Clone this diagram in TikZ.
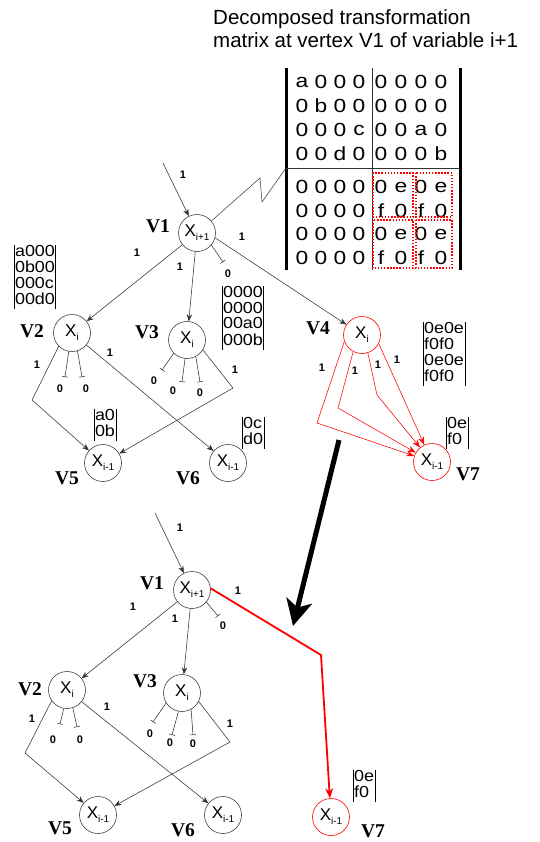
\documentclass[tikz,border=0pt]{standalone}
\usepackage{fontspec}
\setmainfont{Liberation Serif}
\setsansfont{Liberation Sans}
\usepackage{graphicx}
\usetikzlibrary{arrows.meta}

\newcommand\xsub[1]{X\raisebox{-4pt}{\fontsize{10}{10}\selectfont #1}}
\newcommand\smatrix[1]{\scalebox{1.12}[1]{\setlength\arrayrulewidth{0.6pt}\setlength\tabcolsep{0.8pt}%
  \begin{tabular}{|l|}#1\end{tabular}}}

\tikzset{
  vtx/.style={circle, draw=black!75, line width=0.6pt, minimum size=37pt, inner sep=0pt,
    font=\sffamily\fontsize{17}{17}\selectfont},
  rvtx/.style={vtx, draw=red},
  vlab/.style={font=\bfseries\fontsize{19.5}{19.5}\selectfont, inner sep=0pt},
  elab/.style={font=\sffamily\bfseries\fontsize{11}{11}\selectfont, inner sep=0pt},
  arr/.style={draw=black!80, line width=0.55pt, -{Stealth[length=7pt,width=5.5pt]}},
  rarr/.style={draw=red, line width=0.55pt, -{Stealth[length=8pt,width=6pt]}},
  tee/.style={draw=black!80, line width=0.55pt, -{Bar[width=6pt]}},
  smat/.style={font=\sffamily\fontsize{16}{15.5}\selectfont, inner sep=0pt},
  bigc/.style={font=\sffamily\fontsize{19}{19}\selectfont, inner sep=0pt},
  title/.style={font=\sffamily\fontsize{20.5}{23}\selectfont, inner sep=0pt, align=left, anchor=north west},
  dotbox/.style={draw=red, line width=1.4pt, dash pattern=on 1.5pt off 1.6pt},
}

\begin{document}
\begin{tikzpicture}[x=1pt, y=-1pt]
\useasboundingbox (0,0) rectangle (539,842);

% ---------- heading ----------
\node[title] (head) at (213,9) {Decomposed transformation\\matrix at vertex V1 of variable i+1};

% ---------- decomposed matrix ----------
\draw[line width=3pt] (286,68) -- (286,270);
\draw[line width=3pt] (460,68) -- (460,270);
\draw[line width=0.6pt, black!80] (372,68) -- (372,270);
\draw[line width=0.6pt, black!80] (286,168) -- (460,168);
\coordinate (matL) at (286,168);
\def\colx{{302,321,340,359,381,401,421,441}}
\foreach \y/\row in {82/{a,0,0,0,0,0,0,0}, 106/{0,b,0,0,0,0,0,0}, 130/{0,0,0,c,0,0,a,0}, 154/{0,0,d,0,0,0,0,b},
                     187/{0,0,0,0,0,e,0,e}, 211/{0,0,0,0,f,0,f,0}, 234/{0,0,0,0,0,e,0,e}, 258/{0,0,0,0,f,0,f,0}}{
  \foreach \c [count=\i from 0] in \row {
    \pgfmathsetmacro\cx{\colx[\i]}
    \node[bigc] (m-\y-\i) at (\cx,\y) {\scalebox{1.2}[1]{\c}};
  }
}
\draw[dotbox] (373,173) rectangle (413,217);
\draw[dotbox] (416,173) rectangle (452,217);
\draw[dotbox] (373,220) rectangle (413,268);
\draw[dotbox] (416,220) rectangle (452,268);

% ---------- upper diagram ----------
\node[vtx]  (V1t) at (197,233) {\xsub{i+1}};
\node[vtx]  (V2t) at (72,333)  {\xsub{i}};
\node[vtx]  (V3t) at (187,340) {\xsub{i}};
\node[rvtx] (V4t) at (362,335) {\xsub{i}};
\node[vtx]  (V5t) at (103,463) {\xsub{i-1}};
\node[vtx]  (V6t) at (228,463) {\xsub{i-1}};
\node[rvtx] (V7t) at (432,462) {\xsub{i-1}};

\node[vlab] (L1t) at (158,226) {V1};
\node[vlab] (L2t) at (32,331)  {V2};
\node[vlab] (L3t) at (147,332) {V3};
\node[vlab] (L4t) at (318,328) {V4};
\node[vlab] (L5t) at (67,478)  {V5};
\node[vlab] (L6t) at (188,478) {V6};
\node[vlab] (L7t) at (468,474) {V7};

\node[smat] (M2t) at (35,277)  {\smatrix{a000\\0b00\\000c\\00d0}};
\node[smat] (M3t) at (243,318) {\smatrix{0000\\0000\\00a0\\000b}};
\node[smat] (M4t) at (444,354) {\smatrix{0e0e\\f0f0\\0e0e\\f0f0}};
\node[smat] (M5t) at (105,425) {\smatrix{a0\\0b}};
\node[smat] (M6t) at (253,433) {\smatrix{0c\\d0}};
\node[smat] (M7t) at (457,433) {\smatrix{0e\\f0}};

% callout from V1 to the matrix
\coordinate (z1) at (260,178);
\coordinate (z2) at (262,202);
\draw[line width=0.5pt, black!80] (V1t.40) -- (z1) -- (z2) -- (matL);

% edges of V1
\coordinate (in1) at (163,163);
\draw[arr] (in1) -- (V1t);
\node[elab] (e0) at (183,175) {1};
\draw[arr] (V1t) -- (V2t);
\node[elab] (e1) at (137,253) {1};
\draw[arr] (V1t) -- (V3t);
\node[elab] (e2) at (180,267) {1};
\coordinate (t1) at (223,262);
\draw[tee] (V1t.-40) -- (t1);
\node[elab] (e3) at (228,274) {0};
\draw[arr] (V1t.-15) -- (V4t);
\node[elab] (e4) at (242,237) {1};

% edges of V2
\coordinate (b2) at (32,400);
\draw[arr] (V2t.-135) -- (b2) -- (V5t);
\node[elab] (e5) at (37,365) {1};
\coordinate (t2) at (65,377);
\coordinate (t3) at (82,377);
\draw[tee] (V2t.-100) -- (t2);
\draw[tee] (V2t.-73) -- (t3);
\node[elab] (e6) at (60,389) {0};
\node[elab] (e7) at (86,389) {0};
\draw[arr] (V2t) -- (V6t);
\node[elab] (e8) at (110,353) {1};

% edges of V3
\coordinate (t4) at (162,370);
\coordinate (t5) at (182,382);
\coordinate (t6) at (200,382);
\draw[tee] (V3t.-135) -- (t4);
\draw[tee] (V3t.-96) -- (t5);
\draw[tee] (V3t.-62) -- (t6);
\node[elab] (e9)  at (154,381) {0};
\node[elab] (e10) at (173,391) {0};
\node[elab] (e11) at (200,393) {0};
\coordinate (b3) at (233,388);
\draw[arr] (V3t.-32) -- (b3) -- (V5t);
\node[elab] (e12) at (235,370) {1};

% edges of V4
\coordinate (r1) at (317,423);
\coordinate (r2) at (338,408);
\coordinate (r3) at (377,395);
\draw[rarr] (V4t.-160) -- (r1) -- (V7t);
\draw[rarr] (V4t.-118) -- (r2) -- (V7t);
\draw[rarr] (V4t.-72) -- (r3) -- (V7t);
\draw[rarr] (V4t.-27) -- (V7t);
\node[elab] (e13) at (322,368) {1};
\node[elab] (e14) at (355,371) {1};
\node[elab] (e15) at (378,365) {1};
\node[elab] (e16) at (397,360) {1};

% ---------- reduction arrow ----------
\coordinate (g1) at (339,440);
\coordinate (g2) at (293,626);
\draw[line width=5pt, -{Stealth[length=26pt,width=26pt,inset=7pt]}] (g1) -- (g2);

% ---------- lower diagram ----------
\node[vtx]  (V1b) at (192,590) {\xsub{i+1}};
\node[vtx]  (V2b) at (67,690)  {\xsub{i}};
\node[vtx]  (V3b) at (182,693) {\xsub{i}};
\node[vtx]  (V5b) at (98,815)  {\xsub{i-1}};
\node[vtx]  (V6b) at (223,815) {\xsub{i-1}};
\node[rvtx] (V7b) at (331,817) {\xsub{i-1}};

\node[vlab] (L1b) at (152,583) {V1};
\node[vlab] (L2b) at (30,689)  {V2};
\node[vlab] (L3b) at (145,681) {V3};
\node[vlab] (L5b) at (60,828)  {V5};
\node[vlab] (L6b) at (183,830) {V6};
\node[vlab] (L7b) at (373,831) {V7};

\node[smat] (M7b) at (364,786) {\smatrix{0e\\f0}};

\coordinate (in2) at (155,513);
\draw[arr] (in2) -- (V1b);
\node[elab] (f0) at (180,528) {1};
\draw[arr] (V1b) -- (V2b);
\node[elab] (f1) at (133,607) {1};
\draw[arr] (V1b) -- (V3b);
\node[elab] (f2) at (175,619) {1};
\coordinate (t7) at (218,616);
\draw[tee] (V1b.-40) -- (t7);
\node[elab] (f3) at (223,626) {0};
\coordinate (rb) at (321,655);
\draw[draw=red, line width=1.8pt, -{Stealth[length=10pt,width=8pt]}] (V1b.5) -- (rb) -- (V7b);
\node[elab] (f4) at (238,591) {1};

\coordinate (b4) at (25,753);
\draw[arr] (V2b.-145) -- (b4) -- (V5b);
\node[elab] (f5) at (32,719) {1};
\coordinate (t8) at (60,724);
\coordinate (t9) at (77,727);
\draw[tee] (V2b.-100) -- (t8);
\draw[tee] (V2b.-72) -- (t9);
\node[elab] (f6) at (53,740) {0};
\node[elab] (f7) at (80,740) {0};
\draw[arr] (V2b) -- (V6b);
\node[elab] (f8) at (107,707) {1};

\coordinate (t10) at (153,722);
\coordinate (t11) at (172,735);
\coordinate (t12) at (193,735);
\draw[tee] (V3b.-148) -- (t10);
\draw[tee] (V3b.-101) -- (t11);
\draw[tee] (V3b.-61) -- (t12);
\node[elab] (f9)  at (150,734) {0};
\node[elab] (f10) at (170,743) {0};
\node[elab] (f11) at (193,744) {0};
\coordinate (b5) at (230,742);
\draw[arr] (V3b.-27) -- (b5) -- (V5b);
\node[elab] (f12) at (230,724) {1};
\end{tikzpicture}
\end{document}
